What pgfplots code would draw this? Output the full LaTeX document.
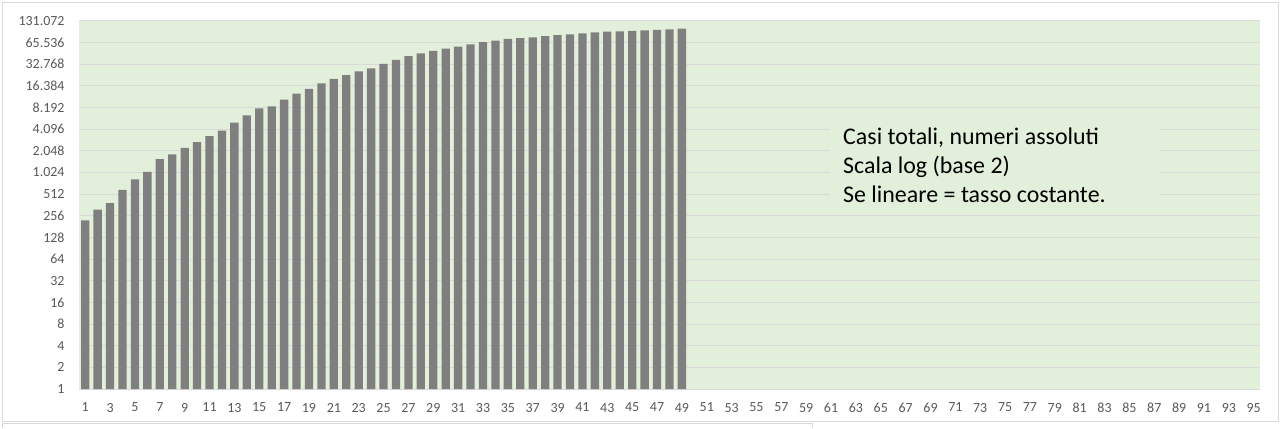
\documentclass[border=0pt]{standalone}
\usepackage{fontspec}
\setmainfont{Carlito}
\usepackage{pgfplots}
\pgfplotsset{compat=1.18}
\definecolor{plotbg}{HTML}{E2EFDA}
\definecolor{gridc}{HTML}{D9D9D9}
\definecolor{barc}{HTML}{7F7F7F}
\definecolor{tickc}{HTML}{595959}
\begin{document}
\begin{tikzpicture}[x=1bp,y=1bp]
\path[use as bounding box] (0,0) rectangle (1281,428);
\fill[white] (0,0) rectangle (1281,428);
\draw[gridc, line width=0.8bp] (2.5,6.5) rectangle (1278.5,425.5);
\draw[gridc, line width=0.8bp] (2.5,0) -- (2.5,4.5) -- (812,4.5) -- (812,0);
\begin{axis}[
  at={(79bp,39bp)}, anchor=south west, scale only axis,
  width=1181bp, height=368bp,
  ymode=log, log basis y=2, ymin=1, ymax=131072,
  xmin=0.5, xmax=95.5,
  ybar, bar width=8.3bp,
  axis background/.style={fill=plotbg},
  axis line style={draw=none},
  ymajorgrids, major grid style={gridc, line width=1bp},
  major tick length=0,
  xtick={1,3,...,95},
  ytick={1,2,4,8,16,32,64,128,256,512,1024,2048,4096,8192,16384,32768,65536,131072},
  yticklabels={1,2,4,8,16,32,64,128,256,512,1.024,2.048,4.096,8.192,16.384,32.768,65.536,131.072},
  /pgf/number format/assume math mode=true,
  tick label style={font=\fontsize{14}{16}\selectfont, text=tickc},
  yticklabel style={xshift=-11bp},
  xticklabel style={yshift=-10.5bp},
  clip=false,
]
\addplot[fill=barc, draw=none] coordinates {
(1,221) (2,311) (3,385) (4,588) (5,821) (6,1049) (7,1577) (8,1835) (9,2263) (10,2706)
(11,3296) (12,3916) (13,5061) (14,6387) (15,7985) (16,8514) (17,10590) (18,12839) (19,14955) (20,17750)
(21,20603) (22,23073) (23,26062) (24,28710) (25,33190) (26,37860) (27,42681) (28,46638) (29,50418) (30,54030)
(31,57521) (32,62013) (33,66414) (34,70065) (35,73880) (36,75528) (37,77635) (38,80572) (39,83049) (40,85388)
(41,88274) (42,91246) (43,93187) (44,94067) (45,95262) (46,96877) (47,98273) (48,100269) (49,102253)
};
\end{axis}
\fill[plotbg] (830,220) rectangle (1159,310);
\node[anchor=base west, font=\fontsize{24}{29}\selectfont, inner sep=0] at (843,284) {Casi totali, numeri assoluti};
\node[anchor=base west, font=\fontsize{24}{29}\selectfont, inner sep=0] at (843,255) {Scala log (base 2)};
\node[anchor=base west, font=\fontsize{24}{29}\selectfont, inner sep=0] at (843,226) {Se lineare = tasso costante.};
\end{tikzpicture}
\end{document}
